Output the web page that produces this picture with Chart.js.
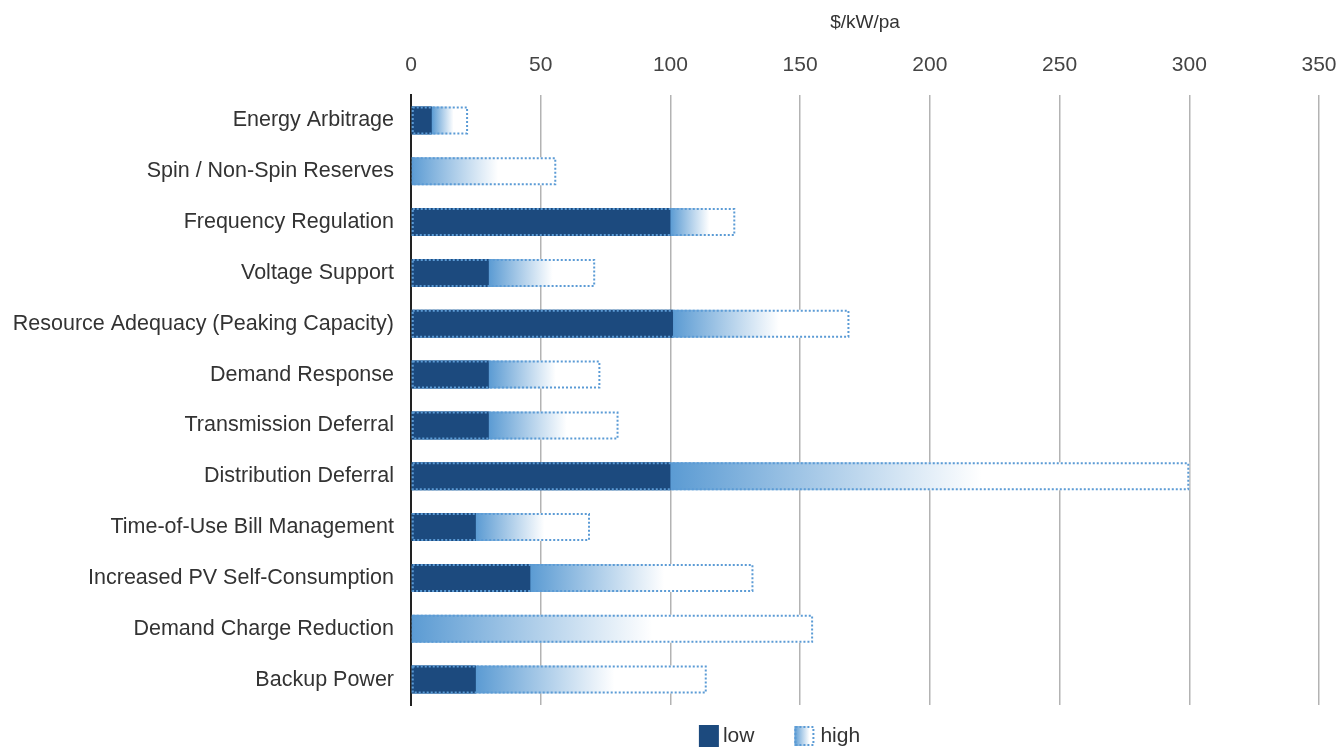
<!DOCTYPE html>
<html>
<head>
<meta charset="utf-8">
<script src="https://cdn.jsdelivr.net/npm/chart.js@4/dist/chart.umd.min.js"></script>
<style>
html,body{margin:0;padding:0;background:#fff;}
#wrap{width:1343px;height:747px;position:relative;}
</style>
</head>
<body>
<div id="wrap"><canvas id="c"></canvas></div>
<script>
const categories = [
  "Energy Arbitrage",
  "Spin / Non-Spin Reserves",
  "Frequency Regulation",
  "Voltage Support",
  "Resource Adequacy (Peaking Capacity)",
  "Demand Response",
  "Transmission Deferral",
  "Distribution Deferral",
  "Time-of-Use Bill Management",
  "Increased PV Self-Consumption",
  "Demand Charge Reduction",
  "Backup Power"
];
const lowValues  = [8, 0, 100, 30, 101, 30, 30, 100, 25, 46, 0, 25];
const highValues = [22, 56, 125, 71, 169, 73, 80, 300, 69, 132, 155, 114];
const axisMin = 0, axisMax = 350, axisStep = 50;
const axisTitle = "$/kW/pa";
const seriesNames = ["low", "high"];

const DARK = '#1c4a7e';
const LIGHT = '#5b9bd3';
const DOT = '#5b9bd5';
const FONT = "'Liberation Sans', Arial, sans-serif";

function highFill(c) {
  const chart = c.chart;
  const xs = chart.scales && chart.scales.x;
  if (!xs || c.dataIndex === undefined) return LIGHT;
  const i = c.dataIndex;
  const p0 = xs.getPixelForValue(lowValues[i]);
  const p1 = xs.getPixelForValue(highValues[i]);
  if (!isFinite(p0) || !isFinite(p1)) return LIGHT;
  const end = p0 + 0.6 * (p1 - p0);
  const g = chart.ctx.createLinearGradient(p0, 0, Math.max(end, p0 + 1), 0);
  g.addColorStop(0, LIGHT);
  g.addColorStop(1, '#ffffff');
  return g;
}

function dottedRect(ctx, left, top, w, h) {
  ctx.save();
  ctx.strokeStyle = DOT;
  ctx.lineWidth = 2;
  ctx.setLineDash([2, 2]);
  ctx.strokeRect(left, top, w, h);
  ctx.restore();
}

const dottedBorder = {
  id: 'dottedBorder',
  afterDatasetsDraw(chart) {
    const meta = chart.getDatasetMeta(1);
    const ctx = chart.ctx;
    meta.data.forEach(el => {
      const p = el.getProps(['x', 'y', 'base', 'height'], true);
      const left = Math.min(p.base, p.x) + 1;
      const right = Math.max(p.base, p.x) - 1;
      const top = p.y - p.height / 2 + 1;
      const bot = p.y + p.height / 2 - 1;
      dottedRect(ctx, left, top, right - left, bot - top);
    });
  }
};

const bottomLegend = {
  id: 'bottomLegend',
  afterDraw(chart) {
    const ctx = chart.ctx;
    const cy = 736;
    const cx = chart.width / 2 + 107;
    ctx.save();
    ctx.font = "21px " + FONT;
    ctx.textBaseline = 'middle';
    const w0 = ctx.measureText(seriesNames[0]).width;
    const w1 = ctx.measureText(seriesNames[1]).width;
    const box = 20, gapT = 4, gapItem = 40;
    const total = box + gapT + w0 + gapItem + box + gapT + w1;
    let x = cx - total / 2;
    ctx.fillStyle = DARK;
    ctx.fillRect(x, cy - 11, box, 22);
    x += box + gapT;
    ctx.fillStyle = '#333';
    ctx.fillText(seriesNames[0], x, cy);
    x += w0 + gapItem;
    const g = ctx.createLinearGradient(x, 0, x + box, 0);
    g.addColorStop(0, LIGHT);
    g.addColorStop(0.75, '#ffffff');
    ctx.fillStyle = g;
    ctx.fillRect(x, cy - 10, box, 20);
    dottedRect(ctx, x + 1, cy - 9, box - 2, 18);
    x += box + gapT + 2;
    ctx.fillStyle = '#333';
    ctx.fillText(seriesNames[1], x, cy);
    ctx.restore();
  }
};

Chart.defaults.font.family = FONT;
Chart.defaults.color = '#333';

new Chart(document.getElementById('c'), {
  type: 'bar',
  data: {
    labels: categories,
    datasets: [
      {
        label: seriesNames[0],
        data: lowValues,
        backgroundColor: DARK,
        borderWidth: 0,
        order: 0,
        grouped: false,
        barPercentage: 0.55,
        categoryPercentage: 1
      },
      {
        label: seriesNames[1],
        data: highValues,
        backgroundColor: highFill,
        borderWidth: 0,
        order: 1,
        grouped: false,
        barPercentage: 0.55,
        categoryPercentage: 1
      }
    ]
  },
  options: {
    indexAxis: 'y',
    responsive: true,
    maintainAspectRatio: false,
    animation: false,
    layout: { padding: { left: 0, right: 0, top: 11, bottom: 42 } },
    scales: {
      x: {
        position: 'top',
        min: axisMin,
        max: axisMax,
        ticks: { stepSize: axisStep, font: { size: 21 }, color: '#444', padding: 17 },
        grid: {
          color: (c) => c.tick && c.tick.value === 0 ? 'rgba(0,0,0,0)' : '#b3b3b3',
          lineWidth: 1.5,
          drawTicks: false
        },
        border: { display: false },
        title: { display: true, text: axisTitle, font: { size: 19 }, color: '#333', padding: { top: 0, bottom: 2 } },
        afterFit(scale) { scale.paddingRight = 24; scale.paddingLeft = 0; }
      },
      y: {
        ticks: { font: { size: 21.5 }, color: '#333', padding: 17 },
        grid: { display: false, drawTicks: false },
        border: { display: true, color: '#222', width: 2 },
        afterFit(scale) { scale.width = 411; }
      }
    },
    plugins: {
      tooltip: { enabled: false },
      legend: { display: false }
    }
  },
  plugins: [dottedBorder, bottomLegend]
});
</script>
</body>
</html>
